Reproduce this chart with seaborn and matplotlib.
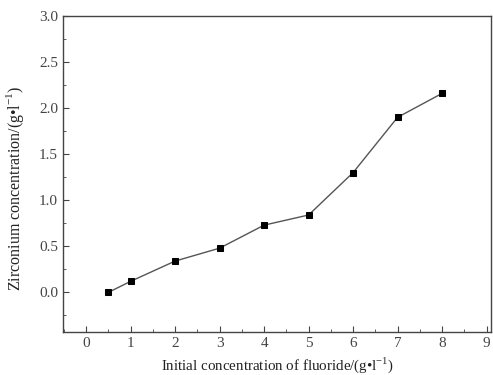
import matplotlib
matplotlib.use("Agg")
import matplotlib.pyplot as plt
import seaborn as sns
import pandas as pd
from matplotlib.ticker import MultipleLocator

fluoride = [0.5, 1, 2, 3, 4, 5, 6, 7, 8]
zirconium = [0.0, 0.12, 0.34, 0.48, 0.73, 0.84, 1.30, 1.90, 2.16]
x_ticks = [0, 1, 2, 3, 4, 5, 6, 7, 8, 9]
y_ticks = [0.0, 0.5, 1.0, 1.5, 2.0, 2.5, 3.0]

sns.set_style("ticks")
plt.rcParams['font.family'] = ['Liberation Serif', 'DejaVu Serif']
plt.rcParams['mathtext.fontset'] = 'custom'
plt.rcParams['mathtext.rm'] = 'Liberation Serif'

df = pd.DataFrame({"x": fluoride, "y": zirconium})

fig = plt.figure(figsize=(4.93, 3.75), dpi=100)
ax = fig.add_axes([63/493, 1-332/375, (491-63)/493, (332-16)/375])

sns.lineplot(data=df, x="x", y="y", ax=ax, color="#555555", linewidth=1.0,
             marker="s", markersize=5, markerfacecolor="black",
             markeredgecolor="black")

ax.set_xlim(-0.52, 9.1)
ax.set_ylim(-0.43, 3.0)
ax.set_xticks(x_ticks)
ax.set_yticks(y_ticks)
ax.set_xticklabels([str(t) for t in x_ticks])
ax.set_yticklabels([f"{t:.1f}" for t in y_ticks])
ax.xaxis.set_minor_locator(MultipleLocator(0.5))
ax.yaxis.set_minor_locator(MultipleLocator(0.25))
ax.tick_params(which="both", direction="in", top=False, right=False,
               labelsize=11, colors="#444444")
ax.tick_params(which="major", length=4)
ax.tick_params(which="minor", length=2)
for s in ax.spines.values():
    s.set_color("#444444")
    s.set_linewidth(1.0)

ax.set_xlabel("Initial concentration of fluoride/(g\u2022l$^{\\mathregular{-1}}$)",
              fontsize=10.8, color="#222222", labelpad=4)
ax.set_ylabel("Zirconium concentration/(g\u2022l$^{\\mathregular{-1}}$)",
              fontsize=11.5, color="#222222")
ax.yaxis.set_label_coords(-0.086, 0.455)

fig.savefig("out.png", dpi=100)
